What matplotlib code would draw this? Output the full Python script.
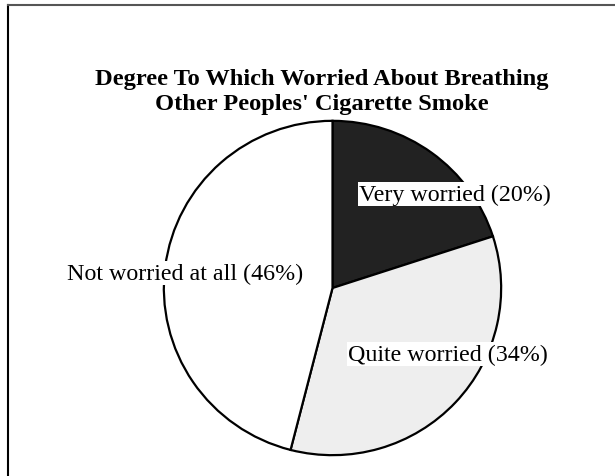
import matplotlib
matplotlib.use("Agg")
import matplotlib.pyplot as plt
from matplotlib.lines import Line2D

title = "Degree To Which Worried About Breathing\nOther Peoples' Cigarette Smoke"
categories = ["Very worried", "Quite worried", "Not worried at all"]
values = [20, 34, 46]
colors = ["#222222", "#eeeeee", "#ffffff"]
label_pos = [(455, 195), (448, 355), (185.5, 274)]

W, H = 615, 477
fig = plt.figure(figsize=(W / 100, H / 100), dpi=100)
plt.rcParams['font.family'] = ['Liberation Serif', 'DejaVu Serif']

# frame lines
fig.add_artist(Line2D([7.5 / W, 7.5 / W], [0, 1 - 5.5 / H], transform=fig.transFigure, color="black", lw=1.5))
fig.add_artist(Line2D([7.5 / W, 1], [1 - 5.5 / H, 1 - 5.5 / H], transform=fig.transFigure, color="#555555", lw=1.5))

# pie (elliptical)
l, r, t, b = 163, 502, 121, 457
ax = fig.add_axes([l / W, 1 - b / H, (r - l) / W, (b - t) / H])
ax.pie(values, colors=colors, startangle=90, counterclock=False,
       wedgeprops=dict(edgecolor="black", linewidth=1.6), radius=1)
ax.set_aspect('auto')
ax.set_xlim(-1.005, 1.005)
ax.set_ylim(-1.005, 1.005)
ax.axis('off')

fig.text(322 / W, 1 - 92 / H, title, ha="center", va="center", fontsize=17.6,
         fontweight="bold", linespacing=1.2)

for cat, v, (x, y) in zip(categories, values, label_pos):
    fig.text(x / W, 1 - y / H, f"{cat} ({v}%)", ha="center", va="center", fontsize=17.3,
             bbox=dict(facecolor="white", edgecolor="none", pad=1.0))

fig.savefig("out.png", dpi=100)
